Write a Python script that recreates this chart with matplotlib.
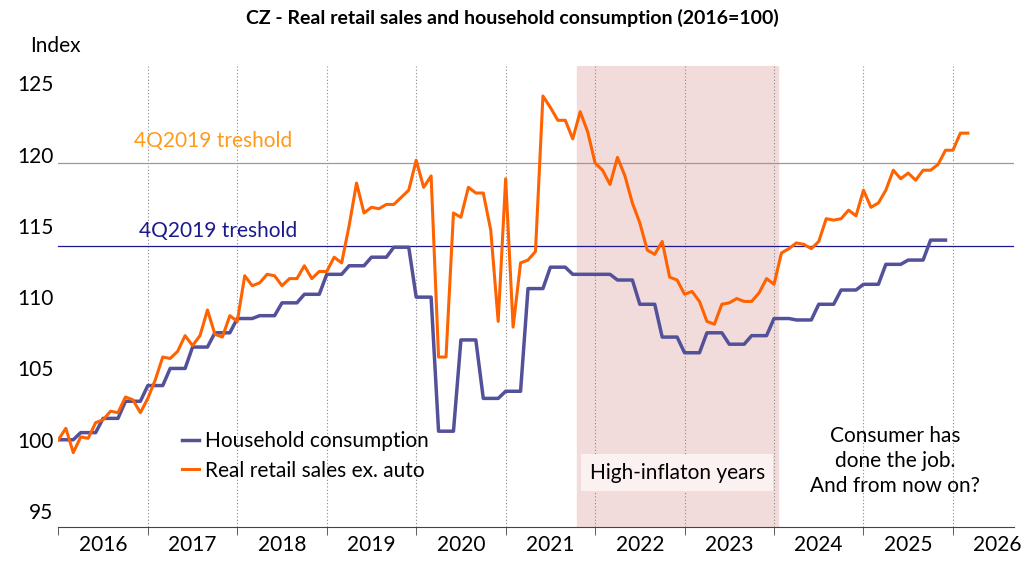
import numpy as np
import matplotlib.pyplot as plt

plt.rcParams['font.family'] = ['Lato', 'DejaVu Sans']

retail = [
    100, 100.8, 99.1, 100.2, 100.1, 101.2, 101.4, 102, 101.9, 103, 102.8, 101.9,
    102.9, 104.2, 105.8, 105.7, 106.2, 107.3, 106.6, 107.3, 109.1, 107.4, 107.2, 108.7,
    108.3, 111.5, 110.8, 111, 111.6, 111.5, 110.8, 111.3, 111.3, 112.2, 111.3, 111.8,
    111.8, 112.8, 112.4, 115, 118, 115.9, 116.3, 116.2, 116.5, 116.5, 117, 117.5,
    119.6, 117.7, 118.5, 105.8, 105.8, 115.9, 115.6, 117.7, 117.3, 117.3, 114.7, 108.3,
    118.3, 107.9, 112.4, 112.6, 113.2, 124.1, 123.3, 122.4, 122.4, 121.1, 123, 121.6,
    119.4, 118.9, 117.9, 119.8, 118.5, 116.6, 115.2, 113.3, 113, 113.9, 111.4, 111.2,
    110.2, 110.4, 109.7, 108.3, 108.1, 109.5, 109.6, 109.9, 109.7, 109.7, 110.3, 111.3,
    110.9, 113.1, 113.4, 113.8, 113.7, 113.4, 113.9, 115.5, 115.4, 115.5, 116.1, 115.7,
    117.5, 116.3, 116.6, 117.5, 118.9, 118.3, 118.7, 118.2, 118.9, 118.9, 119.3, 120.3,
    120.3, 121.5, 121.5,
]
household_q = [
    100, 100.5, 101.5, 102.7,
    103.8, 105, 106.5, 107.5,
    108.5, 108.7, 109.6, 110.2,
    111.6, 112.2, 112.8, 113.5,
    110, 100.6, 107, 102.9,
    103.4, 110.6, 112.1, 111.6,
    111.6, 111.2, 109.5, 107.2,
    106.1, 107.5, 106.7, 107.3,
    108.5, 108.4, 109.5, 110.5,
    110.9, 112.3, 112.6, 114.0,
]
years = list(range(2016, 2027))
retail_threshold = 119.4
household_threshold = 113.6

x_r = 2016 + np.arange(len(retail)) / 12
household = np.repeat(household_q, 3)
x_h = 2016 + np.arange(len(household)) / 12

fig, ax = plt.subplots(figsize=(10.24, 5.76), dpi=100)
fig.subplots_adjust(left=0.057, right=0.99, top=0.885, bottom=0.085)

ax.axvspan(2021.8, 2024.05, color='#f2dcdb', zorder=0)
for y in years[1:]:
    ax.axvline(y, color='#888888', ls=(0, (1, 2)), lw=0.8, zorder=1)
ax.axhline(retail_threshold, color='#999999', lw=0.9, zorder=1)
ax.axhline(household_threshold, color='#1a1a8c', lw=0.9, zorder=1)

ax.plot(x_h, household, color='#525199', lw=2.5, label='Household consumption', zorder=3)
ax.plot(x_r, retail, color='#ff6200', lw=2.2, label='Real retail sales ex. auto', zorder=4)

ax.text(2016.85, 120.5, '4Q2019 treshold', color='#ff9a1a', fontsize=15)
ax.text(2016.9, 114.2, '4Q2019 treshold', color='#1a1a8c', fontsize=15)
ax.text(2022.92, 97.7, 'High-inflaton years', fontsize=15, ha='center', va='center',
        bbox=dict(boxstyle='square,pad=0.4', fc='#fbf1f0', ec='none'), zorder=5)
ax.text(2025.35, 98.5, 'Consumer has\ndone the job.\nAnd from now on?', fontsize=15,
        ha='center', va='center', linespacing=1.3)

ax.legend(loc='lower left', bbox_to_anchor=(0.11, 0.06), frameon=False, fontsize=15,
          handlelength=0.8, handletextpad=0.3, labelspacing=0.45)

ax.set_xlim(2016, 2026.68)
ax.set_ylim(93.88, 126.19)
ax.set_yticks([95, 100, 105, 110, 115, 120, 125])
ax.set_xticks([y + 0.5 for y in years])
ax.set_xticklabels([str(y) for y in years])
ax.set_xticks(years, minor=True)
ax.tick_params(axis='x', which='major', length=0, labelsize=15, pad=6)
ax.tick_params(axis='x', which='minor', length=6, color='#444444')
ax.tick_params(axis='y', length=0, labelsize=15)
for s in ['top', 'right', 'left']:
    ax.spines[s].set_visible(False)
ax.spines['bottom'].set_color('#444444')
ax.text(-0.03, 1.03, 'Index', transform=ax.transAxes, fontsize=15)
fig.suptitle('CZ - Real retail sales and household consumption (2016=100)',
             fontsize=14, fontweight='bold', y=0.985)

fig.savefig('out.png')
